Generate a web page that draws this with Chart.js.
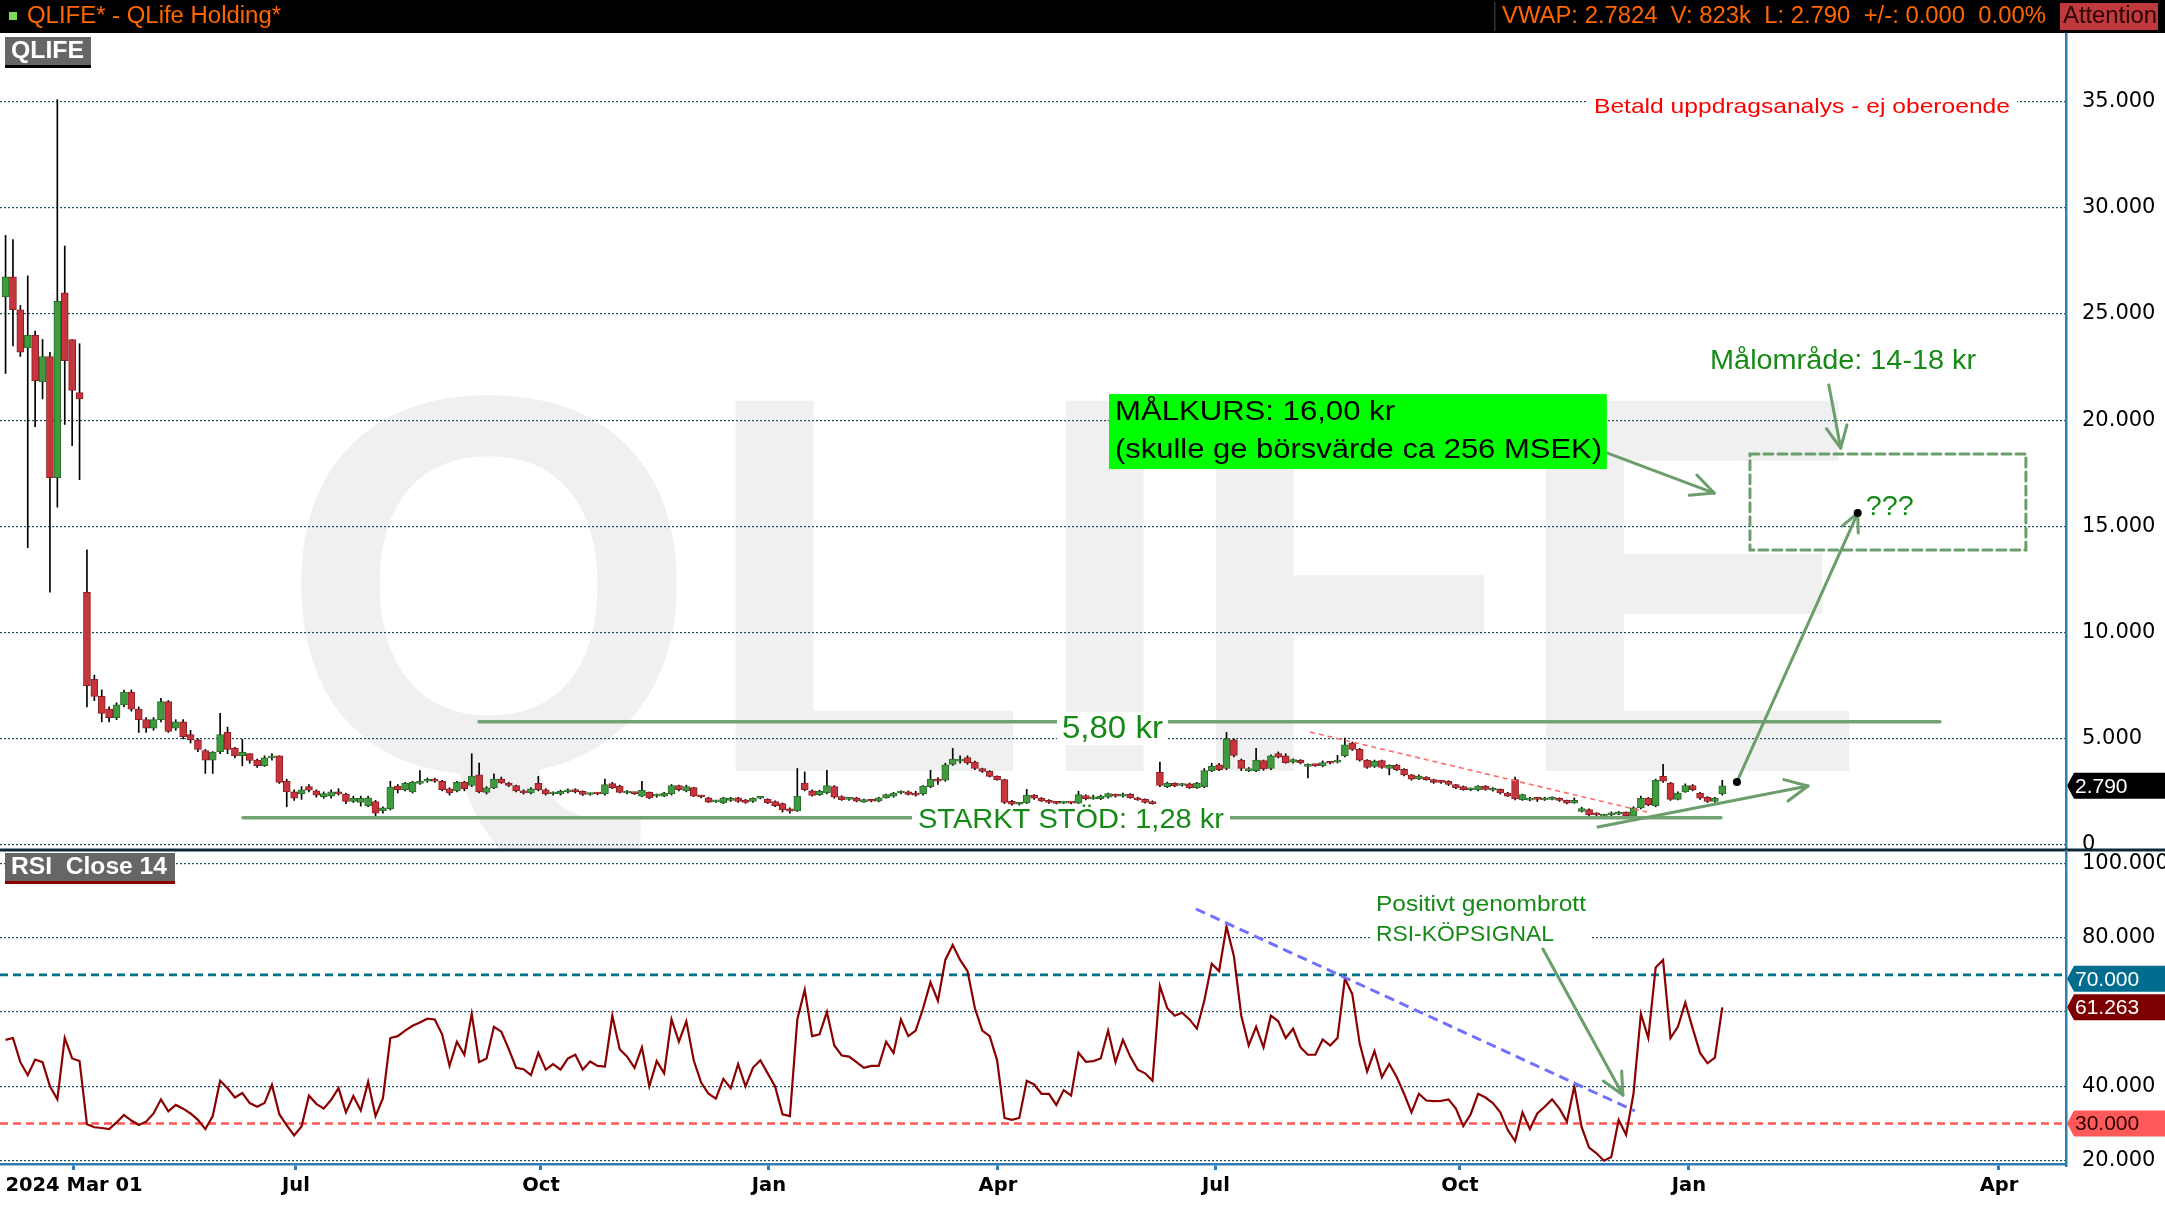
<!DOCTYPE html>
<html>
<head>
<meta charset="utf-8">
<script src="https://cdn.jsdelivr.net/npm/chart.js@4.4.1/dist/chart.umd.min.js"></script>
<style>
  html, body { margin: 0; padding: 0; background: #fff; overflow: hidden; }
  #wrap { position: relative; width: 2165px; height: 1205px; }
  canvas { position: absolute; left: 0; }
  #price { top: 0; }
  #rsi { top: 850px; }
</style>
</head>
<body>
<div id="wrap">
  <canvas id="price" width="2165" height="850"></canvas>
  <canvas id="rsi" width="2165" height="355"></canvas>
</div>
<script>
// candles, one per two trading days
const open = [25.8,26.75,25.2,23.4,24.0,21.8,23.0,17.3,26.0,23.8,
  21.3,11.9,7.8,7.0,6.4,6.0,6.6,7.2,6.4,5.9,
  5.5,5.9,6.75,5.5,5.8,5.2,4.95,4.45,4.0,4.4,
  5.3,4.56,4.2,4.3,4.0,3.73,4.1,4.2,3.0,2.5,
  2.4,2.75,2.55,2.27,2.3,2.5,2.4,2.05,2.0,1.85,
  2.05,1.6,1.7,2.78,2.6,2.5,2.9,3.0,3.1,3.0,
  2.65,2.55,2.95,2.8,3.3,2.48,2.69,3.1,2.92,2.8,
  2.55,2.45,2.9,2.6,2.4,2.4,2.5,2.61,2.53,2.38,
  2.42,2.4,2.89,2.78,2.45,2.45,2.3,2.48,2.3,2.3,
  2.4,2.8,2.55,2.7,2.3,2.22,2.03,1.98,2.1,2.22,
  2.12,2.05,2.2,2.15,2.05,1.95,1.7,1.6,2.92,2.55,
  2.37,2.45,2.75,2.28,2.15,2.22,2.02,2.1,2.06,2.22,
  2.3,2.45,2.5,2.45,2.4,2.75,3.1,3.05,3.8,3.95,
  4.12,3.9,3.6,3.47,3.23,3.08,2.06,1.92,1.98,2.35,
  2.2,2.1,2.0,1.97,2.0,1.97,2.33,2.17,2.18,2.25,
  2.37,2.3,2.4,2.22,2.15,2.05,3.42,2.75,2.9,2.8,
  2.88,2.7,2.75,3.5,3.78,3.6,4.95,4.0,3.5,3.5,
  3.98,3.6,4.3,4.2,3.9,4.0,3.7,3.78,3.72,3.88,
  3.9,4.2,4.8,4.5,4.0,3.7,3.98,3.6,3.75,3.56,
  3.3,3.11,3.2,3.08,3.0,3.0,2.84,2.75,2.6,2.6,
  2.77,2.58,2.62,2.45,3.08,2.14,2.11,2.2,2.12,2.15,
  2.2,2.1,1.98,1.58,1.67,1.5,1.36,1.42,1.45,1.55,
  1.35,1.75,2.2,1.85,3.23,2.92,2.15,2.5,2.8,2.45,
  2.25,2.05,2.4];
const high = [28.7,28.5,25.4,26.8,24.2,23.8,23.2,35.1,28.2,23.8,
  23.6,13.9,8.0,7.3,6.5,6.7,7.3,7.3,6.5,6.0,
  6.0,6.9,6.8,5.9,5.9,5.4,5.0,4.5,4.4,6.2,
  5.55,4.6,4.97,4.3,4.05,4.2,4.3,4.2,3.1,2.6,
  2.75,2.85,2.6,2.5,2.6,2.65,2.45,2.3,2.3,2.3,
  2.1,1.8,3.0,2.85,2.95,3.0,3.5,3.15,3.15,3.05,
  2.7,3.0,3.0,4.3,3.86,2.75,3.35,3.2,2.95,2.82,
  2.6,2.7,3.23,2.65,2.5,2.58,2.65,2.65,2.55,2.45,
  2.46,3.1,2.95,2.82,2.56,2.48,3.0,2.5,2.4,2.48,
  2.85,2.82,2.82,2.72,2.32,2.25,2.1,2.25,2.25,2.25,
  2.15,2.22,2.26,2.18,2.08,1.98,1.75,3.6,3.44,2.6,
  2.58,3.52,2.8,2.32,2.24,2.25,2.16,2.12,2.25,2.4,
  2.48,2.55,2.55,2.53,2.8,3.52,3.18,3.85,4.55,4.2,
  4.2,3.95,3.62,3.5,3.26,3.1,2.1,2.0,2.62,2.38,
  2.24,2.14,2.03,2.03,2.02,2.53,2.36,2.35,2.35,2.45,
  2.4,2.44,2.42,2.25,2.18,2.08,3.9,2.96,2.93,2.9,
  2.92,2.95,3.6,3.85,3.85,5.3,5.0,4.05,3.65,4.55,
  4.0,4.25,4.38,4.3,4.06,4.02,3.82,3.8,3.96,3.9,
  4.22,5.03,4.85,4.55,4.02,4.0,4.0,3.78,3.8,3.6,
  3.32,3.3,3.22,3.1,3.03,3.03,2.86,2.78,2.68,2.8,
  2.8,2.7,2.64,2.48,3.2,2.4,2.24,2.24,2.25,2.27,
  2.22,2.12,2.22,1.78,1.7,1.52,1.45,1.56,1.58,1.56,
  1.8,2.3,2.24,3.1,3.8,2.95,2.5,2.88,2.85,2.48,
  2.28,2.25,3.05];
const low = [22.2,23.5,23.0,14.0,19.7,21.0,11.9,15.9,19.8,18.8,
  17.2,6.5,6.8,5.8,5.8,5.9,6.5,6.3,5.3,5.3,
  5.4,5.8,5.3,5.4,5.0,4.8,4.4,3.37,3.37,4.3,
  4.3,4.1,3.73,3.85,3.65,3.7,4.0,2.9,1.8,2.1,
  2.15,2.5,2.25,2.2,2.2,2.35,1.95,2.0,1.83,1.8,
  1.3,1.5,1.65,2.45,2.55,2.45,2.85,2.95,2.95,2.55,
  2.35,2.5,2.55,2.75,2.45,2.4,2.65,2.9,2.75,2.5,
  2.4,2.4,2.55,2.35,2.35,2.35,2.45,2.45,2.33,2.35,
  2.36,2.35,2.65,2.45,2.4,2.38,2.28,2.18,2.25,2.28,
  2.35,2.55,2.5,2.28,2.22,2.0,2.0,1.95,2.05,2.0,
  1.96,2.0,2.17,1.95,1.8,1.55,1.5,1.58,2.55,2.3,
  2.33,2.4,2.2,2.1,2.1,2.03,2.0,2.03,2.03,2.2,
  2.25,2.4,2.35,2.3,2.35,2.7,2.85,3.0,3.75,3.85,
  3.8,3.55,3.42,3.2,3.05,1.95,1.88,1.88,1.95,2.15,
  2.05,1.96,1.93,1.95,1.94,1.95,2.12,2.15,2.14,2.2,
  2.25,2.25,2.2,2.1,1.97,1.92,2.75,2.7,2.74,2.77,
  2.66,2.66,2.7,3.45,3.5,3.55,4.15,3.5,3.45,3.45,
  3.52,3.55,4.1,3.85,3.85,3.82,3.16,3.7,3.68,3.82,
  3.86,4.15,4.45,3.95,3.6,3.65,3.6,3.3,3.5,3.25,
  3.05,3.08,3.05,2.9,2.9,2.8,2.65,2.58,2.56,2.55,
  2.58,2.53,2.4,2.28,2.12,2.1,2.08,2.05,2.1,2.12,
  2.05,1.94,1.96,1.55,1.38,1.36,1.3,1.38,1.42,1.33,
  1.32,1.7,1.85,1.8,2.95,2.1,2.12,2.48,2.55,2.15,
  2.0,2.0,2.35];
const close = [26.75,25.2,23.2,24.0,21.85,23.0,17.3,25.6,22.8,21.4,
  21.0,7.5,7.0,6.2,6.0,6.6,7.2,6.4,5.9,5.5,
  5.9,6.75,5.35,5.8,5.1,4.95,4.5,4.0,4.36,5.2,
  4.5,4.2,4.36,3.98,3.73,4.1,4.2,2.95,2.5,2.2,
  2.6,2.58,2.35,2.42,2.5,2.4,2.05,2.2,2.2,2.22,
  1.5,1.75,2.73,2.6,2.9,2.95,3.0,3.08,3.0,2.6,
  2.45,2.95,2.65,3.25,2.5,2.69,3.1,2.92,2.8,2.55,
  2.45,2.65,2.6,2.4,2.45,2.53,2.6,2.5,2.38,2.42,
  2.4,2.84,2.69,2.48,2.53,2.42,2.58,2.22,2.37,2.45,
  2.8,2.6,2.75,2.3,2.27,2.02,2.06,2.22,2.2,2.05,
  2.0,2.2,2.22,1.98,1.85,1.65,1.59,2.3,2.61,2.33,
  2.53,2.8,2.25,2.14,2.2,2.06,2.14,2.06,2.22,2.37,
  2.45,2.5,2.38,2.35,2.77,3.1,3.0,3.78,4.05,4.05,
  3.86,3.6,3.47,3.23,3.08,2.0,1.92,1.95,2.35,2.2,
  2.08,2.0,1.96,2.0,1.97,2.37,2.18,2.25,2.3,2.42,
  2.3,2.4,2.22,2.12,2.0,1.95,2.8,2.92,2.78,2.85,
  2.7,2.9,3.5,3.7,3.55,5.0,4.22,3.6,3.6,4.0,
  3.58,4.2,4.14,3.88,4.02,3.86,3.78,3.74,3.88,3.85,
  4.0,4.72,4.5,4.0,3.65,3.95,3.65,3.75,3.55,3.3,
  3.1,3.25,3.08,2.95,2.95,2.85,2.7,2.6,2.65,2.77,
  2.62,2.62,2.45,2.3,2.17,2.37,2.2,2.15,2.22,2.24,
  2.1,1.97,2.1,1.72,1.42,1.42,1.4,1.52,1.55,1.38,
  1.75,2.2,1.9,3.05,3.0,2.15,2.45,2.8,2.6,2.2,
  2.05,2.2,2.79];
const rsi = [52.5,53,46.5,43,47.2,46.5,40,36.5,53,47.5,
  46.8,29.8,29,28.8,28.5,30.3,32.3,30.8,29.6,30.5,
  32.7,36.5,33.3,35,34,32.7,31,28.5,32,41.5,
  39.5,37,38.2,35.5,34.5,35.5,40.4,32.5,29.5,26.8,
  29.2,37.5,35.3,34,36.4,39.5,33,37.4,33.5,41.2,
  32,36.8,53,53.5,55,56.3,57.2,58.2,58,54,
  45.5,52,48.5,59.5,46.5,47.5,56,54.7,50,45,
  44.6,43,49,44.5,46,44.5,47.5,48.5,44.5,46.7,
  45.5,45.3,59,50,48,45,50.5,40,46.8,43.5,
  58,52,57.5,47,41,38,36.7,42,39.5,46,
  40,45,47,43.5,40,32.5,32,58,66,53.5,
  54,60,51,48.3,48,46.5,45,45.5,45.5,52,
  49,58,53.5,55,61,68,63,74,78,74,
  71,61,55,53.5,47,31.5,31,31.5,41.5,40.5,
  38,38,35,39,37.5,49,46.6,46.8,47.5,55,
  46.5,52.5,48,44.5,43.5,41.5,67,61,59,59.8,
  58,55.5,63,73,71,83,75,59,51,56,
  50.5,59,57.5,53,55.5,50.5,48.5,48.5,52.6,51,
  53,69,64.8,51.5,44,49.5,42.5,46,42.5,38,
  33,38,36.2,36,36.1,36.5,34,29.3,32.5,38,
  37,35.5,33,28.3,25.3,33,28.5,32.7,34.5,36.5,
  34,30.5,40,29,23.5,22,20,21,31,27,
  38,59.5,53,72,74,53,56,62.5,55.6,49,
  46.2,47.7,61.263];

const priceTicks = [0, 5, 10, 15, 20, 25, 30, 35];
const rsiTicks = [20, 40, 60, 80, 100];
const tickLabels = ['2024 Mar 01', 'Jul', 'Oct', 'Jan', 'Apr', 'Jul', 'Oct', 'Jan', 'Apr'];
const tickPos = [9.25, 39.25, 72.36, 103.17, 134.11, 163.57, 196.55, 227.5, 269.39];
const resistance = 5.80, support = 1.28, targetPrice = 16.00;
const overbought = 70, oversold = 30;
const vwap = '2.7824', volume = '823k';

const X_MIN = -0.75, X_MAX = 278.45;
const FONT = '"Liberation Sans", Arial, sans-serif';
const AXIS_FONT = '"DejaVu Sans", Verdana, sans-serif';
const GREEN_FILL = '#3f9b3f', GREEN_LINE = '#2a6b2a', RED_FILL = '#c7353c', RED_LINE = '#8c1d22';
const ANNO = '#6b9e6b', TXT_GREEN = '#168a16', AXIS_BLUE = '#2f7db3';

Chart.defaults.font.family = AXIS_FONT;
Chart.defaults.color = '#000';

function seg(ctx, a, b, c, d) { ctx.beginPath(); ctx.moveTo(a, b); ctx.lineTo(c, d); ctx.stroke(); }
function arrow(ctx, a, b, c, d, head) {
  seg(ctx, a, b, c, d);
  const t = Math.atan2(d - b, c - a);
  for (const s of [-0.45, 0.45]) seg(ctx, c, d, c - head * Math.cos(t + s), d - head * Math.sin(t + s));
}
// text squeezed/stretched to the width it has in the original
function fitText(ctx, str, x, y, w, font, color) {
  ctx.save();
  ctx.font = font; ctx.textBaseline = 'middle'; ctx.textAlign = 'left';
  const s = w / ctx.measureText(str).width;
  ctx.fillStyle = color;
  ctx.translate(x, y); ctx.scale(s, 1);
  ctx.fillText(str, 0, 0);
  ctx.restore();
}
function box(ctx, x1, y1, x2, y2, fill) {
  ctx.fillStyle = fill;
  ctx.fillRect(Math.min(x1, x2), Math.min(y1, y2), Math.abs(x2 - x1), Math.abs(y2 - y1));
}
function tag(ctx, yc, text, fill, color) {
  ctx.save();
  ctx.fillStyle = fill;
  ctx.beginPath();
  ctx.moveTo(2067, yc); ctx.lineTo(2074, yc - 13); ctx.lineTo(2165, yc - 13);
  ctx.lineTo(2165, yc + 13); ctx.lineTo(2074, yc + 13); ctx.closePath(); ctx.fill();
  ctx.fillStyle = color; ctx.font = '21px ' + FONT; ctx.textBaseline = 'middle';
  ctx.fillText(text, 2075, yc + 1);
  ctx.restore();
}
function labelBox(ctx, x, y, w, h, text, textW, under) {
  box(ctx, x, y, x + w, y + h, '#666666');
  box(ctx, x, y + h - 1, x + w, y + h + 2, under);
  fitText(ctx, text, x + 6, y + h / 2, textW, 'bold 23px ' + FONT, '#fff');
}

const pricePlugin = {
  id: 'priceDecor',
  beforeDraw(chart) {
    const ctx = chart.ctx;
    ctx.save();
    ctx.font = 'bold 538px ' + FONT;
    ctx.fillStyle = '#f0f0f0';
    const m = ctx.measureText('QLIFE');
    const ink = m.actualBoundingBoxLeft + m.actualBoundingBoxRight;
    ctx.translate(296, 0); ctx.scale(1560 / ink, 1);
    ctx.fillText('QLIFE', m.actualBoundingBoxLeft, 771);
    ctx.restore();
  },
  afterDraw(chart) {
    const ctx = chart.ctx, xs = chart.scales.x, ys = chart.scales.y;
    const X = v => xs.getPixelForValue(v), Y = v => ys.getPixelForValue(v);
    const last = close[close.length - 1];
    ctx.save();
    ctx.lineCap = 'round';

    // resistance / support levels
    ctx.strokeStyle = '#72a472'; ctx.lineWidth = 3.5;
    seg(ctx, X(63.98), Y(resistance), X(261.41), Y(resistance));
    seg(ctx, X(32.09), Y(support), X(231.82), Y(support));
    box(ctx, X(142.09), Y(6.26), X(157.09), Y(4.71), '#fff');
    fitText(ctx, resistance.toFixed(2).replace('.', ',') + ' kr', X(142.76), Y(5.46), 101, '31px ' + FONT, TXT_GREEN);
    box(ctx, X(122.49), Y(1.74), X(165.47), Y(0.61), '#fff');
    fitText(ctx, 'STARKT STÖD: ' + support.toFixed(2).replace('.', ',') + ' kr', X(123.3), Y(1.18), 306, '28px ' + FONT, TXT_GREEN);

    // falling red trend line
    ctx.setLineDash([5, 4]); ctx.lineCap = 'butt';
    ctx.strokeStyle = '#ff6b6b'; ctx.lineWidth = 1.6;
    seg(ctx, X(176.28), Y(5.32), X(221.82), Y(1.55));
    ctx.setLineDash([]); ctx.lineCap = 'round';

    // target zone
    ctx.strokeStyle = ANNO; ctx.lineWidth = 3;
    ctx.setLineDash([9, 5]);
    ctx.strokeRect(X(235.74), Y(18.41), X(273.03) - X(235.74), Y(13.89) - Y(18.41));
    ctx.setLineDash([]);
    arrow(ctx, X(246.4), Y(21.66), X(248.0), Y(18.69), 24);
    arrow(ctx, X(216.4), Y(18.46), X(230.9), Y(16.57), 25);
    arrow(ctx, X(233.98), Y(last + 0.18), X(250.3), Y(15.63), 20);
    arrow(ctx, X(215.2), Y(0.85), X(243.58), Y(2.78), 25);
    ctx.fillStyle = '#000';
    for (const [k, p] of [[233.98, last + 0.18], [250.3, 15.63]]) {
      ctx.beginPath(); ctx.arc(X(k), Y(p), 4, 0, Math.PI * 2); ctx.fill();
    }
    fitText(ctx, '???', X(251.4), Y(15.87), 48, '27px ' + FONT, TXT_GREEN);
    fitText(ctx, 'Målområde: 14-18 kr', X(230.35), Y(22.74), 266, '27px ' + FONT, TXT_GREEN);

    // target price box
    box(ctx, X(149.12), Y(21.23), X(216.4), Y(17.70), '#00ff00');
    fitText(ctx, 'MÅLKURS: ' + targetPrice.toFixed(2).replace('.', ',') + ' kr', X(149.93), Y(20.38), 280, '28px ' + FONT, '#000');
    fitText(ctx, '(skulle ge börsvärde ca 256 MSEK)', X(149.93), Y(18.6), 487, '28px ' + FONT, '#000');

    // disclaimer
    box(ctx, X(213.71), Y(35.22), X(271.82), Y(34.23), '#fff');
    fitText(ctx, 'Betald uppdragsanalys - ej oberoende', X(214.66), Y(34.72), 416, '21px ' + FONT, '#ff0000');

    // last price tag, axis line, panel separator
    tag(ctx, Y(last), last.toFixed(3), '#000', '#fff');
    box(ctx, 2065, 33, 2067.5, 850, AXIS_BLUE);
    box(ctx, 0, 848.5, 2165, 850, '#0e2a38');

    // header
    box(ctx, 0, 0, 2165, 33, '#000');
    box(ctx, 9, 12, 17, 20, '#7ed957');
    fitText(ctx, 'QLIFE* - QLife Holding*', 27, 17, 254, '23px ' + FONT, '#ff6600');
    box(ctx, 1494, 2, 1495.5, 31, '#333');
    fitText(ctx, 'VWAP: ' + vwap + '  V: ' + volume + '  L: ' + last.toFixed(3) + '  +/-: 0.000  0.00%',
      1502, 17, 544, '23px ' + FONT, '#ff6600');
    box(ctx, 2060, 3, 2158, 30, '#c0393c');
    fitText(ctx, 'Attention', 2063, 17, 94, '23px ' + FONT, '#2b0505');

    labelBox(ctx, 5, 37, 86, 29, 'QLIFE', 73, '#000');
    ctx.restore();
  }
};

const rsiPlugin = {
  id: 'rsiDecor',
  beforeDatasetsDraw(chart) {
    const ctx = chart.ctx, ys = chart.scales.y, a = chart.chartArea;
    ctx.save();
    ctx.setLineDash([8, 5]); ctx.lineWidth = 2.6;
    ctx.strokeStyle = '#00708c';
    seg(ctx, a.left, ys.getPixelForValue(overbought), a.right, ys.getPixelForValue(overbought));
    ctx.strokeStyle = '#ff5555';
    seg(ctx, a.left, ys.getPixelForValue(oversold), a.right, ys.getPixelForValue(oversold));
    ctx.restore();
  },
  afterDraw(chart) {
    const ctx = chart.ctx, xs = chart.scales.x, ys = chart.scales.y;
    const X = v => xs.getPixelForValue(v), Y = v => ys.getPixelForValue(v);
    ctx.save();
    // falling RSI trend line
    ctx.setLineDash([10, 6]); ctx.strokeStyle = '#7070ff'; ctx.lineWidth = 3;
    seg(ctx, X(160.87), Y(87.71), X(220.2), Y(33.37));
    ctx.setLineDash([]);

    box(ctx, X(184.52), Y(92.82), X(214.39), Y(78.02), '#fff');
    fitText(ctx, 'Positivt genombrott', X(185.2), Y(88.8), 210, '22px ' + FONT, TXT_GREEN);
    fitText(ctx, 'RSI-KÖPSIGNAL', X(185.2), Y(80.7), 178, '22px ' + FONT, TXT_GREEN);
    ctx.strokeStyle = ANNO; ctx.lineWidth = 3; ctx.lineCap = 'round';
    arrow(ctx, X(207.76), Y(76.95), X(218.57), Y(37.67), 24);

    tag(ctx, Y(overbought) + 4, overbought.toFixed(3), '#006d8e', '#fff');
    tag(ctx, Y(rsi[rsi.length - 1]), rsi[rsi.length - 1].toFixed(3), '#7d0000', '#fff');
    tag(ctx, Y(oversold), oversold.toFixed(3), '#ff5a5a', '#2a0000');

    box(ctx, 0, 0, 2165, 1.5, '#0e2a38');
    box(ctx, 2065, 0, 2067.5, 317, AXIS_BLUE);
    labelBox(ctx, 5, 3, 170, 29, 'RSI  Close 14', 156, '#8b0000');
    ctx.restore();
  }
};

const up = close.map((c, i) => c >= open[i]);

new Chart(document.getElementById('price'), {
  type: 'bar',
  data: {
    datasets: [
      {
        label: 'body', order: 0,
        data: close.map((c, i) => ({ x: i, y: [open[i], c] })),
        backgroundColor: up.map(u => u ? GREEN_FILL : RED_FILL),
        borderColor: up.map(u => u ? GREEN_LINE : RED_LINE),
        borderWidth: 1, borderSkipped: false, barThickness: 7, minBarLength: 2, grouped: false
      },
      {
        label: 'wick', order: 1,
        data: high.map((h, i) => ({ x: i, y: [low[i], h] })),
        backgroundColor: '#000', borderWidth: 0, barThickness: 1, grouped: false
      }
    ]
  },
  options: {
    responsive: false, animation: false, devicePixelRatio: 1, events: [],
    layout: { padding: { top: 33, left: 0, right: 0, bottom: 0 } },
    plugins: { legend: { display: false }, tooltip: { enabled: false } },
    scales: {
      x: { type: 'linear', display: false, min: X_MIN, max: X_MAX, offset: false },
      y: {
        type: 'linear', position: 'right', min: -0.235, max: 38.23,
        afterFit(s) { s.width = 99; s.paddingTop = 0; s.paddingBottom = 0; },
        afterBuildTicks(s) { s.ticks = priceTicks.map(v => ({ value: v })); },
        ticks: { padding: 16, color: '#000', font: { size: 21 }, callback: v => v === 0 ? '0' : v.toFixed(3) },
        grid: { color: '#1f4d5e', lineWidth: 1.2, drawTicks: false, tickLength: 0 },
        border: { display: false, dash: [2, 2] }
      }
    }
  },
  plugins: [pricePlugin]
});

new Chart(document.getElementById('rsi'), {
  type: 'line',
  data: {
    datasets: [{
      label: 'RSI', data: rsi.map((r, i) => ({ x: i, y: r })),
      borderColor: '#8b0000', borderWidth: 2.2, pointRadius: 0, tension: 0, fill: false
    }]
  },
  options: {
    responsive: false, animation: false, devicePixelRatio: 1, events: [],
    layout: { padding: { top: 0, left: 0, right: 0, bottom: 0 } },
    plugins: { legend: { display: false }, tooltip: { enabled: false } },
    scales: {
      x: {
        type: 'linear', position: 'bottom', min: X_MIN, max: X_MAX, offset: false,
        afterFit(s) { s.height = 41; s.paddingLeft = 0; s.paddingRight = 0; },
        afterBuildTicks(s) { s.ticks = tickPos.map(v => ({ value: v })); },
        ticks: {
          autoSkip: false, maxRotation: 0, minRotation: 0, padding: 4, color: '#000',
          font: { size: 19.5, weight: 'bold' }, callback: (v, i) => tickLabels[i]
        },
        grid: { drawOnChartArea: false, drawTicks: true, tickLength: 6, tickColor: AXIS_BLUE, tickWidth: 3 },
        border: { display: true, color: AXIS_BLUE, width: 2.5 }
      },
      y: {
        type: 'linear', position: 'right', min: 19.11, max: 103.58,
        afterFit(s) { s.width = 99; s.paddingTop = 0; s.paddingBottom = 0; },
        afterBuildTicks(s) { s.ticks = rsiTicks.map(v => ({ value: v })); },
        ticks: { padding: 16, color: '#000', font: { size: 21 }, callback: v => v === 60 ? '' : v.toFixed(3) },
        grid: { color: '#1f4d5e', lineWidth: 1.2, drawTicks: false, tickLength: 0 },
        border: { display: false, dash: [2, 2] }
      }
    }
  },
  plugins: [rsiPlugin]
});
</script>
</body>
</html>
